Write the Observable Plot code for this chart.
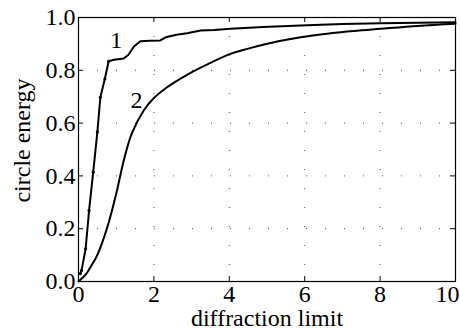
<!DOCTYPE html>
<html>
<head>
<meta charset="utf-8">
<script src="https://cdn.jsdelivr.net/npm/d3@7"></script>
<script src="https://cdn.jsdelivr.net/npm/@observablehq/plot@0.6"></script>
<style>
html, body { margin: 0; padding: 0; background: #fff; }
</style>
</head>
<body>
<div id="chart"></div>
<script>
const xTicks = [0, 2, 4, 6, 8, 10];
const yTicks = [0, 0.2, 0.4, 0.6, 0.8, 1.0];
const xTitle = "diffraction limit";
const yTitle = "circle energy";

const curve1X = [0.05, 0.08, 0.19, 0.28, 0.39, 0.50, 0.58, 0.70, 0.80, 0.94, 1.1, 1.2, 1.33, 1.47, 1.64, 1.9, 2.17, 2.31, 2.6, 2.88, 3.24, 3.6, 4.03, 4.9, 5.89, 7.0, 8.0, 9.0, 10];
const curve1Y = [0.03, 0.042, 0.124, 0.269, 0.414, 0.566, 0.698, 0.768, 0.834, 0.84, 0.843, 0.845, 0.86, 0.89, 0.91, 0.912, 0.913, 0.925, 0.935, 0.94, 0.951, 0.953, 0.957, 0.964, 0.970, 0.975, 0.978, 0.980, 0.982];

const curve2X = [0, 0.12, 0.22, 0.34, 0.47, 0.61, 0.79, 1.01, 1.19, 1.41, 1.73, 2.0, 2.35, 2.88, 3.5, 4.03, 4.5, 4.92, 5.89, 6.68, 7.3, 8.0, 9.0, 10];
const curve2Y = [0, 0.016, 0.032, 0.06, 0.092, 0.14, 0.218, 0.338, 0.452, 0.559, 0.648, 0.695, 0.736, 0.783, 0.828, 0.862, 0.882, 0.898, 0.925, 0.940, 0.949, 0.957, 0.968, 0.976];

const curveLabels = ["1", "2"];
const labelX = [1.0, 1.54];
const labelY = [0.913, 0.686];

const c1 = curve1X.map((x, i) => ({x, y: curve1Y[i]}));
const c2 = curve2X.map((x, i) => ({x, y: curve2Y[i]}));
const labs = curveLabels.map((t, i) => ({t, x: labelX[i], y: labelY[i]}));

const serif = "'Liberation Serif', 'DejaVu Serif', serif";
const fs = 24;

const chart = Plot.plot({
  width: 460,
  height: 328,
  marginLeft: 78,
  marginRight: 5,
  marginTop: 17,
  marginBottom: 47,
  style: { fontFamily: serif, fontSize: fs + "px", color: "#000", background: "#fff" },
  x: { domain: [0, 10] },
  y: { domain: [0, 1] },
  marks: [
    Plot.gridX(xTicks.slice(1, -1), { stroke: "#000", strokeOpacity: 0.7, strokeDasharray: "1,18" }),
    Plot.gridY(yTicks.slice(1, -1), { stroke: "#000", strokeOpacity: 0.7, strokeDasharray: "1,18" }),
    Plot.tickX(xTicks, { x: d => d, insetTop: 259, stroke: "#000" }),
    Plot.tickX(xTicks, { x: d => d, insetBottom: 259, stroke: "#000" }),
    Plot.tickY(yTicks, { y: d => d, insetRight: 372, stroke: "#000" }),
    Plot.tickY(yTicks, { y: d => d, insetLeft: 372, stroke: "#000" }),
    Plot.axisX(xTicks.slice(0, -1), { tickSize: 0, tickPadding: 3, tickFormat: d3.format("d"), label: null, fontSize: fs, fontFamily: serif }),
    Plot.axisX(xTicks.slice(-1), { tickSize: 0, tickPadding: 3, tickFormat: d3.format("d"), label: null, fontSize: fs, fontFamily: serif, dx: -8 }),
    Plot.axisY(yTicks, { tickSize: 0, tickPadding: 3, tickFormat: d3.format(".1f"), label: null, fontSize: fs, fontFamily: serif }),
    Plot.text([xTitle], { text: d => d, frameAnchor: "bottom", textAnchor: "middle", lineAnchor: "middle", dy: 37, fontSize: fs, fontFamily: serif, fill: "#000" }),
    Plot.text([yTitle], { text: d => d, frameAnchor: "left", textAnchor: "middle", lineAnchor: "middle", rotate: -90, dx: -56, dy: -9, fontSize: fs, fontFamily: serif, fill: "#000" }),
    Plot.frame({ stroke: "#000", strokeWidth: 1.2 }),
    Plot.line(c1, { x: "x", y: "y", stroke: "#000", strokeWidth: 2 }),
    Plot.dot(c1.filter(d => d.x < 0.85), { x: "x", y: "y", r: 1.6, fill: "#000" }),
    Plot.line(c2, { x: "x", y: "y", stroke: "#000", strokeWidth: 2, curve: "catmull-rom" }),
    Plot.text(labs, { x: "x", y: "y", text: "t", fontSize: fs, fontFamily: serif, fill: "#000" })
  ]
});
document.getElementById("chart").appendChild(chart);
</script>
</body>
</html>
